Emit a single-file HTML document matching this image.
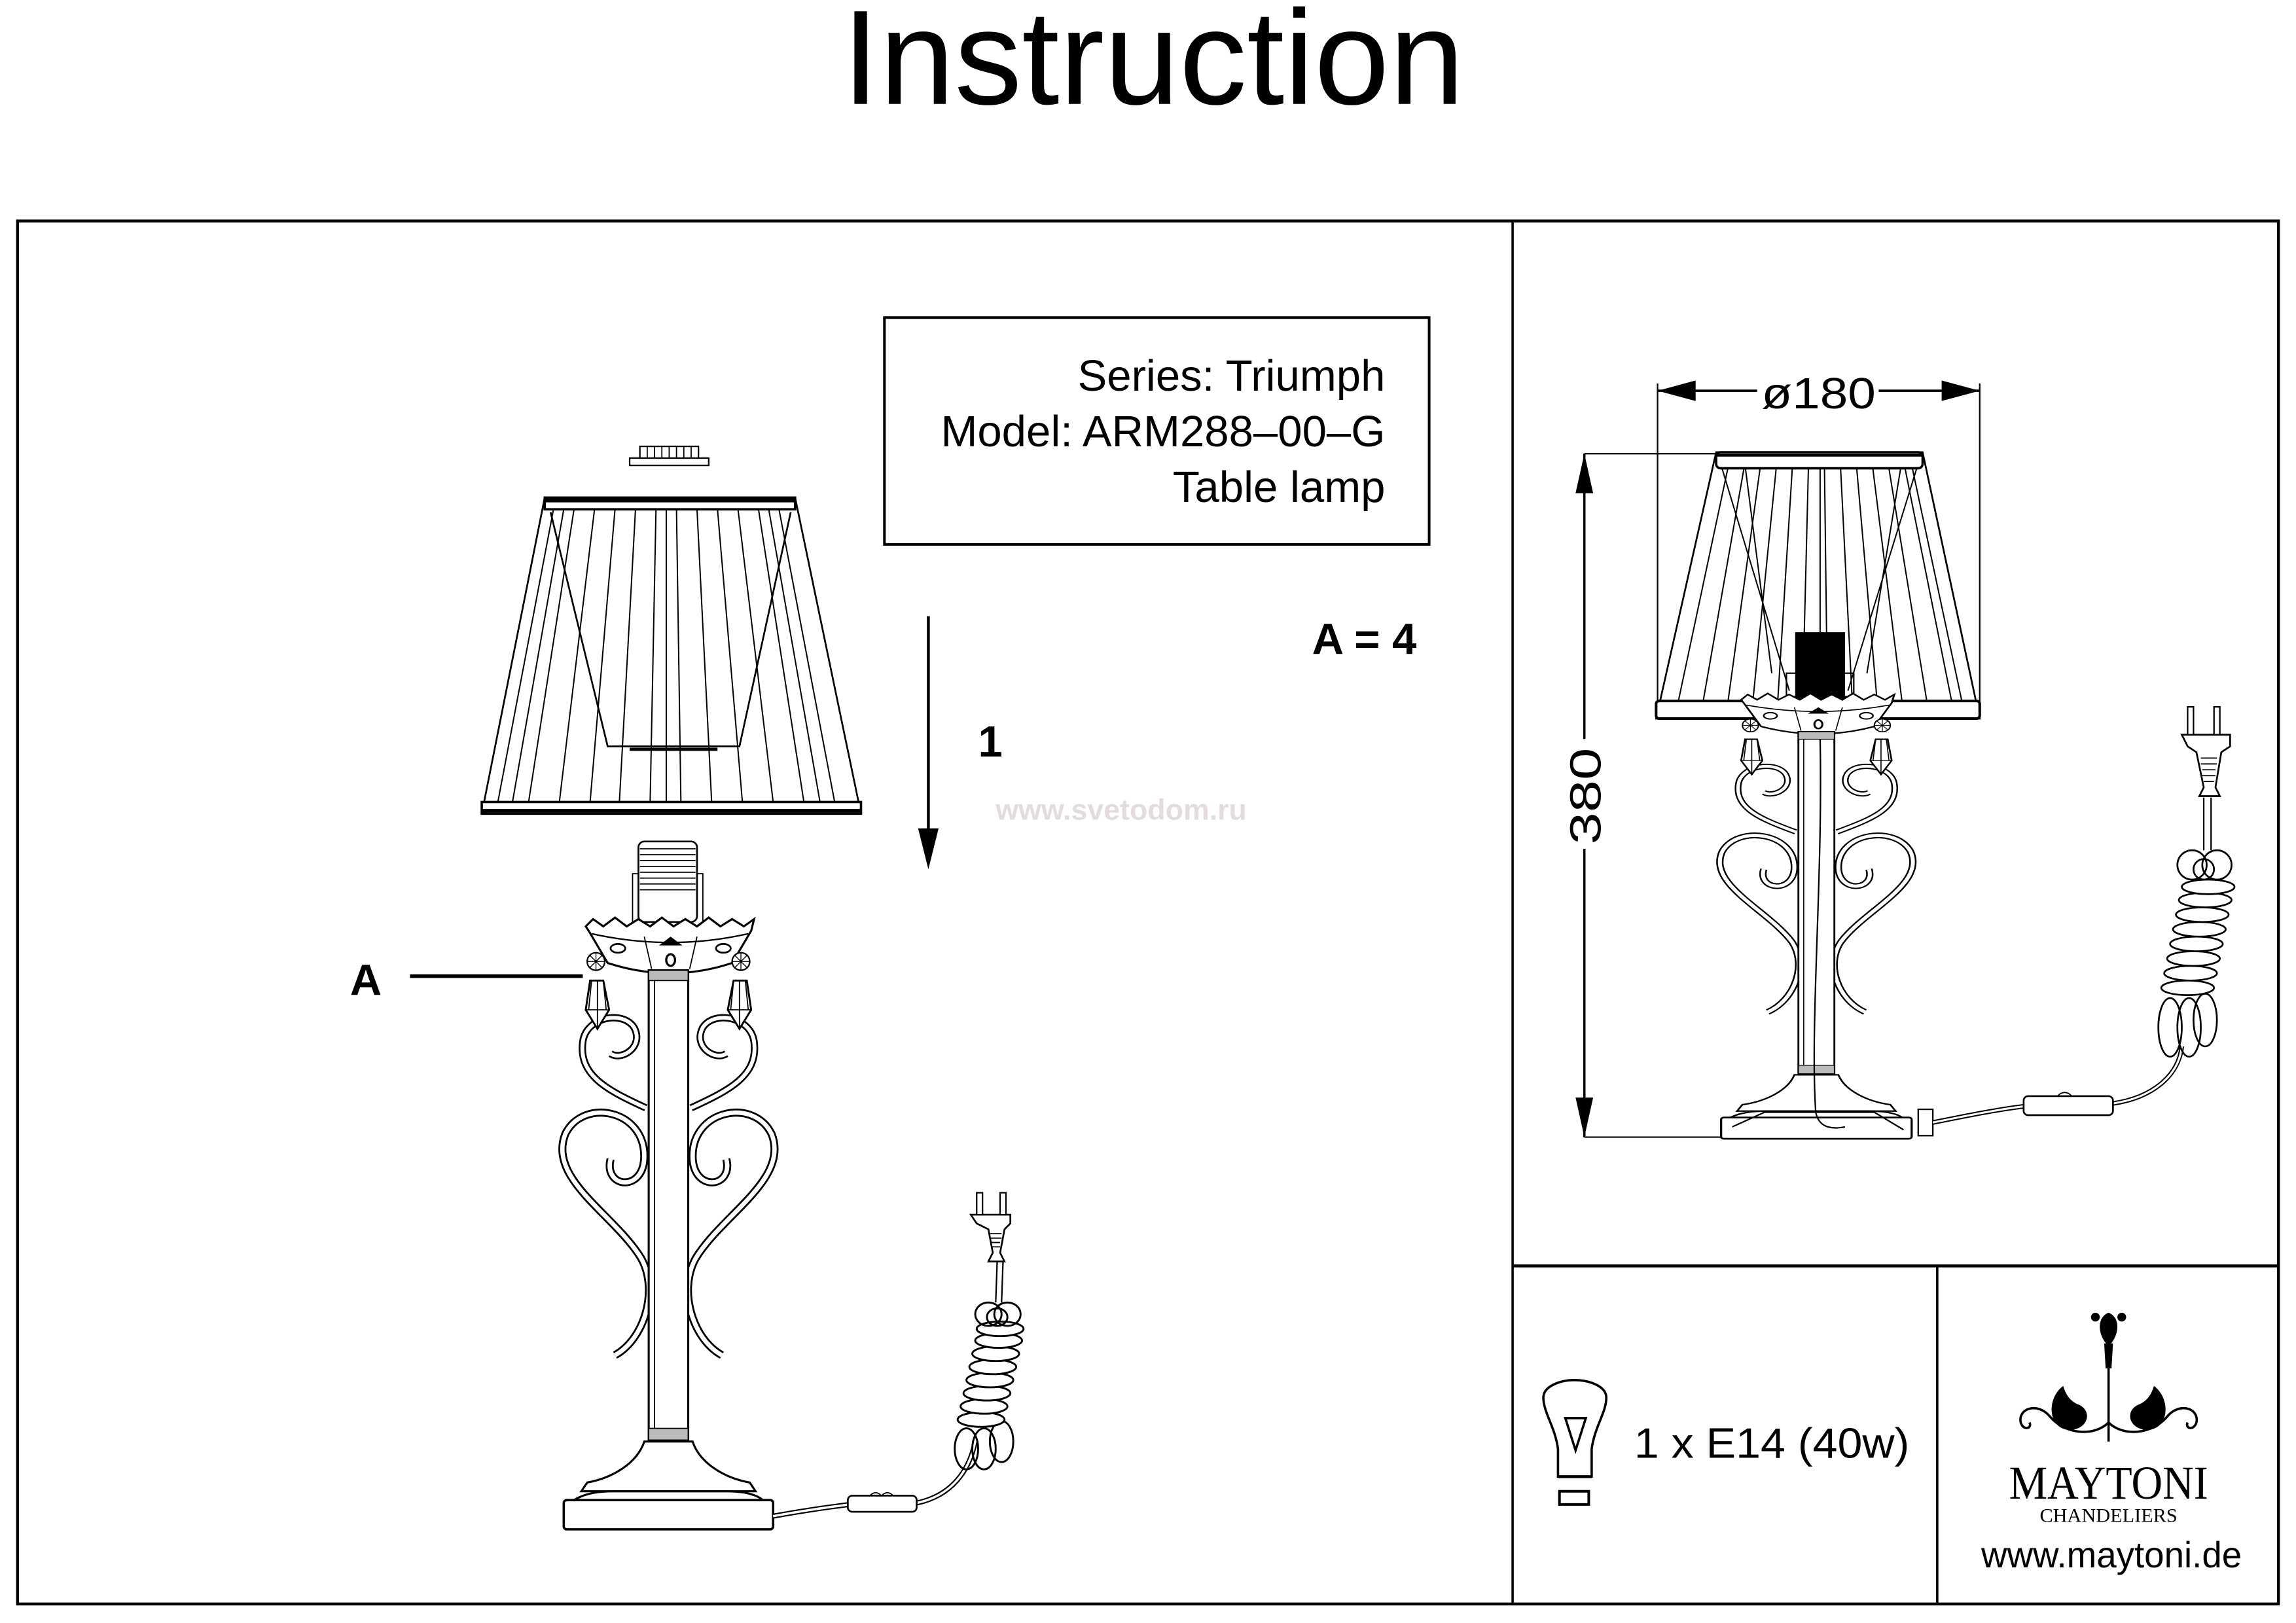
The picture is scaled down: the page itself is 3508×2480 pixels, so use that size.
<!DOCTYPE html>
<html><head><meta charset="utf-8"><style>
html,body{margin:0;padding:0;background:#fff;}
svg{display:block;}
text{font-family:"Liberation Sans",sans-serif;}
</style></head><body>
<svg width="3508" height="2480" viewBox="0 0 1568 1109" preserveAspectRatio="none" xmlns="http://www.w3.org/2000/svg">
<defs>
<g id="scrollL">
  <path d="M441,757 C415,745 395,735 398,712 C400,695 425,690 433,702 C440,715 425,725 417,720" fill="none" stroke="#000" stroke-width="5"/>
  <path d="M441,757 C415,745 395,735 398,712 C400,695 425,690 433,702 C440,715 425,725 417,720" fill="none" stroke="#fff" stroke-width="2.6"/>
  <path d="M417,792 C412,812 440,815 440,790 C440,758 398,750 386,775 C374,806 420,830 438,860 C450,882 440,915 420,926" fill="none" stroke="#000" stroke-width="5.5"/>
  <path d="M417,792 C412,812 440,815 440,790 C440,758 398,750 386,775 C374,806 420,830 438,860 C450,882 440,915 420,926" fill="none" stroke="#fff" stroke-width="3"/>
  <circle cx="407" cy="657" r="6" fill="#fff" stroke="#000" stroke-width="1"/>
  <path d="M407,651 L407,663 M401,657 L413,657 M403,653 L411,661 M411,653 L403,661" stroke="#000" stroke-width="0.6"/>
  <polygon points="403,670 412,670 416,690 408,703 400,690" fill="#fff" stroke="#000" stroke-width="1.3"/>
  <path d="M408,670 L408,703 M400,690 L416,690 M404,670 L402,690 M412,670 L414,690" stroke="#000" stroke-width="0.8"/>
</g>
<g id="base">
  <path d="M400,633 L405,628 L412,633 L420,627 L428,633 L436,628 L444,633 L452,627 L460,633 L468,628 L476,633 L484,627 L492,633 L500,628 L508,633 L515,628 L513,636 L500,658 Q458,672 415,658 L402,636 Z" fill="#fff" stroke="#000" stroke-width="1.4"/>
  <path d="M404,638 Q458,650 511,638" fill="none" stroke="#000" stroke-width="1"/>
  <ellipse cx="422" cy="648" rx="5" ry="3" fill="none" stroke="#000" stroke-width="1.2"/>
  <ellipse cx="494" cy="648" rx="5" ry="3" fill="none" stroke="#000" stroke-width="1.2"/>
  <ellipse cx="458" cy="656" rx="3" ry="4" fill="none" stroke="#000" stroke-width="1.5"/>
  <path d="M450,646 L458,640 L466,646 Z" fill="#000"/>
  <path d="M440,640 L445,662 M476,640 L471,662" stroke="#000" stroke-width="0.8"/>
  <use href="#scrollL"/>
  <g transform="translate(913,0) scale(-1,1)"><use href="#scrollL"/></g>
  <rect x="443" y="663" width="27" height="322" fill="#fff" stroke="#000" stroke-width="1.4"/>
  <line x1="447" y1="666" x2="447" y2="982" stroke="#000" stroke-width="0.8"/>
  <rect x="443" y="663" width="27" height="7" fill="#bbb" stroke="#000" stroke-width="0.8"/>
  <rect x="443" y="976" width="27" height="8" fill="#bbb" stroke="#000" stroke-width="0.8"/>
  <path d="M440,985 L473,985 C478,1000 495,1010 512,1013 L516,1019 L397,1019 L401,1013 C418,1010 435,1000 440,985 Z" fill="#fff" stroke="#000" stroke-width="1.4"/>
  <path d="M392,1025 C400,1020 410,1019 420,1019 L494,1019 C505,1019 515,1020 521,1025" fill="none" stroke="#000" stroke-width="1.4"/>
  <rect x="385" y="1025" width="143" height="20" rx="2" fill="#fff" stroke="#000" stroke-width="1.6"/>
</g>
</defs>

<!-- Title -->
<text x="575" y="71" font-size="92" textLength="425" lengthAdjust="spacingAndGlyphs">Instruction</text>

<!-- frame -->
<rect x="12" y="151" width="1544" height="945" fill="none" stroke="#000" stroke-width="2"/>
<line x1="1033" y1="151" x2="1033" y2="1096" stroke="#000" stroke-width="1.6"/>
<line x1="1033" y1="865" x2="1556" y2="865" stroke="#000" stroke-width="2"/>
<line x1="1323" y1="865" x2="1323" y2="1096" stroke="#000" stroke-width="1.6"/>

<!-- info box -->
<rect x="604" y="217" width="372" height="155" fill="none" stroke="#000" stroke-width="1.8"/>
<text x="946" y="267" font-size="30" text-anchor="end">Series: Triumph</text>
<text x="946" y="305" font-size="30" text-anchor="end">Model: ARM288–00–G</text>
<text x="946" y="343" font-size="30" text-anchor="end">Table lamp</text>

<text x="896" y="447" font-size="30" font-weight="bold">A = 4</text>
<line x1="634" y1="421" x2="634" y2="572" stroke="#000" stroke-width="2"/>
<polygon points="627,566 641,566 634,594" fill="#000"/>
<text x="668" y="517" font-size="30" font-weight="bold">1</text>
<text x="680" y="560" font-size="20" font-weight="bold" fill="#e4dcdc">www.svetodom.ru</text>
<text x="239" y="680" font-size="30" font-weight="bold">A</text>
<line x1="280" y1="667" x2="398" y2="667" stroke="#000" stroke-width="2.5"/>

<!-- Left lamp: cap -->
<rect x="430" y="313" width="54" height="5" fill="#fff" stroke="#000" stroke-width="1"/>
<rect x="437" y="305" width="40" height="8" fill="#fff" stroke="#000" stroke-width="1"/>
<path d="M442,305V313M447,305V313M452,305V313M457,305V313M462,305V313M467,305V313M472,305V313" stroke="#000" stroke-width="0.8"/>
<!-- left shade -->
<polygon points="372,340 543,340 588,556 329,556" fill="#fff" stroke="#000" stroke-width="1.2"/>
<g stroke="#000" stroke-width="0.9">
<line x1="378" y1="348" x2="340" y2="548"/><line x1="392" y1="348" x2="361" y2="548"/><line x1="406" y1="348" x2="382" y2="548"/>
<line x1="420" y1="348" x2="403" y2="548"/><line x1="434" y1="348" x2="423" y2="548"/><line x1="448" y1="348" x2="444" y2="548"/>
<line x1="462" y1="348" x2="465" y2="548"/><line x1="476" y1="348" x2="486" y2="548"/><line x1="490" y1="348" x2="507" y2="548"/>
<line x1="504" y1="348" x2="528" y2="548"/><line x1="518" y1="348" x2="549" y2="548"/><line x1="532" y1="348" x2="570" y2="548"/>
<line x1="385" y1="348" x2="350" y2="548"/><line x1="455" y1="348" x2="455" y2="548"/><line x1="525" y1="348" x2="560" y2="548"/>
</g>
<path d="M376,350 L415,510 L505,510 L540,350" fill="none" stroke="#000" stroke-width="1.2"/>
<path d="M430,512 L490,512" stroke="#000" stroke-width="2.2"/>
<rect x="372" y="340" width="171" height="8" fill="#fff" stroke="#000" stroke-width="1.6"/>
<line x1="372" y1="342" x2="543" y2="342" stroke="#000" stroke-width="2.5"/>
<rect x="329" y="548" width="259" height="8" fill="#fff" stroke="#000" stroke-width="1.6"/>
<line x1="329" y1="554" x2="588" y2="554" stroke="#000" stroke-width="2.5"/>
<!-- left socket -->
<rect x="432" y="597" width="48" height="38" fill="#fff" stroke="#000" stroke-width="0.8"/>
<rect x="436" y="575" width="40" height="55" rx="4" fill="#fff" stroke="#000" stroke-width="1.2"/>
<path d="M437,580H475M437,584H475M437,588H475M437,592H475M437,596H475M437,600H475M437,604H475M437,608H475" stroke="#000" stroke-width="0.8"/>
<use href="#base"/>
<!-- left cord -->
<path d="M528,1036 C550,1032 565,1030 580,1028" fill="none" stroke="#000" stroke-width="3.5"/>
<path d="M528,1036 C550,1032 565,1030 580,1028" fill="none" stroke="#fff" stroke-width="1.6"/>
<path d="M626,1027 C650,1022 662,1005 666,985" fill="none" stroke="#000" stroke-width="3.5"/>
<path d="M626,1027 C650,1022 662,1005 666,985" fill="none" stroke="#fff" stroke-width="1.6"/>
<rect x="579" y="1022" width="47" height="11" rx="3" fill="#fff" stroke="#000" stroke-width="1.2"/>
<path d="M594,1022 Q598,1018 602,1022 Q606,1018 610,1022" fill="none" stroke="#000" stroke-width="0.8"/>
<g fill="none" stroke="#000" stroke-width="1.3">
<ellipse cx="660" cy="990" rx="8" ry="14"/><ellipse cx="672" cy="990" rx="8" ry="14"/><ellipse cx="684" cy="985" rx="8" ry="14"/>
</g>
<g fill="#fff" stroke="#000" stroke-width="1.3">
<ellipse cx="670" cy="970" rx="16" ry="5"/><ellipse cx="672" cy="961" rx="16" ry="5"/><ellipse cx="674" cy="952" rx="16" ry="5"/>
<ellipse cx="676" cy="943" rx="16" ry="5"/><ellipse cx="678" cy="934" rx="16" ry="5"/><ellipse cx="680" cy="925" rx="16" ry="5"/>
<ellipse cx="682" cy="916" rx="16" ry="5"/><ellipse cx="683" cy="908" rx="16" ry="5"/>
</g>
<g fill="none" stroke="#000" stroke-width="1.3">
<ellipse cx="675" cy="898" rx="9" ry="8"/><ellipse cx="688" cy="898" rx="9" ry="8"/><ellipse cx="681" cy="900" rx="7" ry="6"/>
</g>
<path d="M680,890 L681,862 M684,890 L685,862" stroke="#000" stroke-width="1"/>
<path d="M663,830 L690,830 L690,836 L686,840 L683,856 L686,862 L675,862 L678,856 L675,840 L667,836 Z" fill="#fff" stroke="#000" stroke-width="1.2"/>
<path d="M676,843H684M676,846H684M677,849H683M677,852H683" stroke="#000" stroke-width="0.8"/>
<rect x="667" y="815" width="4" height="15" fill="#fff" stroke="#000" stroke-width="1"/>
<rect x="683" y="815" width="4" height="15" fill="#fff" stroke="#000" stroke-width="1"/>

<!-- Right lamp dimensions -->
<line x1="1132" y1="262" x2="1132" y2="490" stroke="#000" stroke-width="1"/>
<line x1="1352" y1="262" x2="1352" y2="490" stroke="#000" stroke-width="1"/>
<line x1="1132" y1="267" x2="1200" y2="267" stroke="#000" stroke-width="1.6"/>
<line x1="1283" y1="267" x2="1352" y2="267" stroke="#000" stroke-width="1.6"/>
<polygon points="1132,267 1158,260 1158,274" fill="#000"/>
<polygon points="1352,267 1326,260 1326,274" fill="#000"/>
<text x="1242" y="279" font-size="30" text-anchor="middle" textLength="78" lengthAdjust="spacingAndGlyphs">ø180</text>
<line x1="1082" y1="310" x2="1175" y2="310" stroke="#000" stroke-width="1"/>
<line x1="1082" y1="777" x2="1182" y2="777" stroke="#000" stroke-width="1"/>
<line x1="1082" y1="310" x2="1082" y2="505" stroke="#000" stroke-width="1.6"/>
<line x1="1082" y1="580" x2="1082" y2="777" stroke="#000" stroke-width="1.6"/>
<polygon points="1082,310 1076,337 1088,337" fill="#000"/>
<polygon points="1082,777 1076,750 1088,750" fill="#000"/>
<text transform="translate(1093,544) rotate(-90)" font-size="30" text-anchor="middle" textLength="66" lengthAdjust="spacingAndGlyphs">380</text>

<!-- right shade -->
<polygon points="1172,309 1313,309 1352,491 1131,491" fill="#fff" stroke="#000" stroke-width="1.2"/>
<g stroke="#000" stroke-width="0.9">
<line x1="1180" y1="320" x2="1146" y2="480"/><line x1="1191" y1="320" x2="1163" y2="480"/><line x1="1202" y1="320" x2="1180" y2="480"/>
<line x1="1213" y1="320" x2="1197" y2="480"/><line x1="1224" y1="320" x2="1214" y2="480"/><line x1="1235" y1="320" x2="1231" y2="480"/>
<line x1="1246" y1="320" x2="1248" y2="480"/><line x1="1257" y1="320" x2="1265" y2="480"/><line x1="1268" y1="320" x2="1282" y2="480"/>
<line x1="1279" y1="320" x2="1299" y2="480"/><line x1="1290" y1="320" x2="1316" y2="480"/><line x1="1301" y1="320" x2="1333" y2="480"/>
<line x1="1306" y1="320" x2="1340" y2="480"/>
<line x1="1176" y1="320" x2="1222" y2="472"/><line x1="1309" y1="320" x2="1262" y2="472"/>
<line x1="1192" y1="320" x2="1210" y2="460"/><line x1="1298" y1="320" x2="1275" y2="460"/>
<line x1="1243" y1="320" x2="1243" y2="432"/>
</g>
<rect x="1172" y="309" width="141" height="11" rx="3" fill="#fff" stroke="#000" stroke-width="1.6"/>
<line x1="1172" y1="311" x2="1313" y2="311" stroke="#000" stroke-width="2"/>
<rect x="1131" y="479" width="221" height="12" rx="2" fill="#fff" stroke="#000" stroke-width="1.8"/>
<rect x="1226" y="432" width="34" height="46" fill="#000"/>
<rect x="1220" y="460" width="46" height="16" fill="none" stroke="#000" stroke-width="1"/>
<g transform="translate(1240,476) scale(0.91,0.728) translate(-456,-630)">
<use href="#base"/>
</g>
<path d="M1243,505 C1245,600 1236,700 1240,760 C1242,770 1250,772 1260,770" fill="none" stroke="#000" stroke-width="1"/>
<path d="M1183,770 L1205,760 L1280,760 L1300,772" fill="none" stroke="#000" stroke-width="1"/>
<rect x="1310" y="758" width="10" height="18" fill="#fff" stroke="#000" stroke-width="1"/>
<!-- right cord -->
<path d="M1320,767 C1345,762 1365,758 1382,756" fill="none" stroke="#000" stroke-width="3.2"/>
<path d="M1320,767 C1345,762 1365,758 1382,756" fill="none" stroke="#fff" stroke-width="1.4"/>
<path d="M1443,754 C1470,750 1488,735 1490,715" fill="none" stroke="#000" stroke-width="3.2"/>
<path d="M1443,754 C1470,750 1488,735 1490,715" fill="none" stroke="#fff" stroke-width="1.4"/>
<rect x="1382" y="749" width="61" height="13" rx="3" fill="#fff" stroke="#000" stroke-width="1.2"/>
<path d="M1405,749 Q1410,744 1415,749" fill="none" stroke="#000" stroke-width="0.8"/>
<g fill="none" stroke="#000" stroke-width="1.2">
<ellipse cx="1482" cy="702" rx="8" ry="20"/><ellipse cx="1495" cy="702" rx="8" ry="20"/><ellipse cx="1506" cy="697" rx="8" ry="18"/>
</g>
<g fill="#fff" stroke="#000" stroke-width="1.2">
<ellipse cx="1494" cy="675" rx="18" ry="5"/><ellipse cx="1496" cy="665" rx="18" ry="5"/><ellipse cx="1498" cy="655" rx="18" ry="5"/>
<ellipse cx="1500" cy="645" rx="18" ry="5"/><ellipse cx="1502" cy="635" rx="18" ry="5"/><ellipse cx="1504" cy="625" rx="18" ry="5"/>
<ellipse cx="1506" cy="615" rx="18" ry="5"/><ellipse cx="1508" cy="606" rx="18" ry="5"/>
</g>
<g fill="none" stroke="#000" stroke-width="1.2">
<ellipse cx="1497" cy="591" rx="10" ry="10"/><ellipse cx="1514" cy="591" rx="10" ry="10"/><ellipse cx="1505" cy="594" rx="7" ry="7"/>
</g>
<path d="M1505,581 L1505,545 M1510,581 L1510,545" stroke="#000" stroke-width="1"/>
<path d="M1490,502 L1523,502 L1523,510 L1517,514 L1513,538 L1516,544 L1502,544 L1505,538 L1500,514 L1494,510 Z" fill="#fff" stroke="#000" stroke-width="1.2"/>
<path d="M1503,518H1514M1503,522H1514M1504,526H1513M1504,530H1513M1505,534H1512" stroke="#000" stroke-width="0.8"/>
<rect x="1494" y="483" width="4" height="19" fill="#fff" stroke="#000" stroke-width="1"/>
<rect x="1512" y="483" width="4" height="19" fill="#fff" stroke="#000" stroke-width="1"/>

<!-- Bulb -->
<path d="M1064,1009 L1064,990 C1062,975 1054,965 1054,955 C1054,947 1066,943 1075,943 C1085,943 1097,947 1097,955 C1097,965 1089,975 1087,990 L1087,1009 Z" fill="none" stroke="#000" stroke-width="1.6"/>
<line x1="1064" y1="1009" x2="1087" y2="1009" stroke="#000" stroke-width="2"/>
<polygon points="1069,969 1083,969 1076,991" fill="none" stroke="#000" stroke-width="1.6"/>
<rect x="1065" y="1019" width="20" height="9" fill="none" stroke="#000" stroke-width="1.8"/>
<text x="1116" y="996" font-size="29" textLength="188" lengthAdjust="spacingAndGlyphs">1 x E14 (40w)</text>

<!-- Logo -->
<g fill="#000">
<path d="M1440,897 C1432,900 1432,912 1440,920 C1448,912 1448,900 1440,897 Z"/>
<circle cx="1431" cy="900" r="3"/><circle cx="1449" cy="900" r="3"/>
<path d="M1437,918 L1443,918 L1442,935 L1438,935 Z"/>
<path d="M1409,947 C1398,955 1398,975 1412,977 C1425,978 1430,965 1420,960 C1412,957 1410,950 1409,947 Z"/>
<path d="M1471,947 C1482,955 1482,975 1468,977 C1455,978 1450,965 1460,960 C1468,957 1470,950 1471,947 Z"/>
</g>
<g fill="none" stroke="#000" stroke-width="1.6">
<line x1="1440" y1="930" x2="1440" y2="985"/>
<path d="M1380,972 C1378,962 1392,958 1400,968 C1410,980 1430,982 1440,972 C1450,982 1470,980 1480,968 C1488,958 1502,962 1500,972"/>
<path d="M1380,972 C1382,978 1388,976 1386,972"/>
<path d="M1500,972 C1498,978 1492,976 1494,972"/>
</g>
<text x="1440" y="1024" font-family="Liberation Serif,serif" font-size="32" text-anchor="middle" textLength="136" lengthAdjust="spacingAndGlyphs" style="font-family:'Liberation Serif',serif">MAYTONI</text>
<text x="1440" y="1040" font-size="13" text-anchor="middle" textLength="94" lengthAdjust="spacingAndGlyphs" style="font-family:'Liberation Serif',serif">CHANDELIERS</text>
<text x="1442" y="1071" font-size="25" text-anchor="middle" textLength="178" lengthAdjust="spacingAndGlyphs">www.maytoni.de</text>
</svg>
</body></html>
